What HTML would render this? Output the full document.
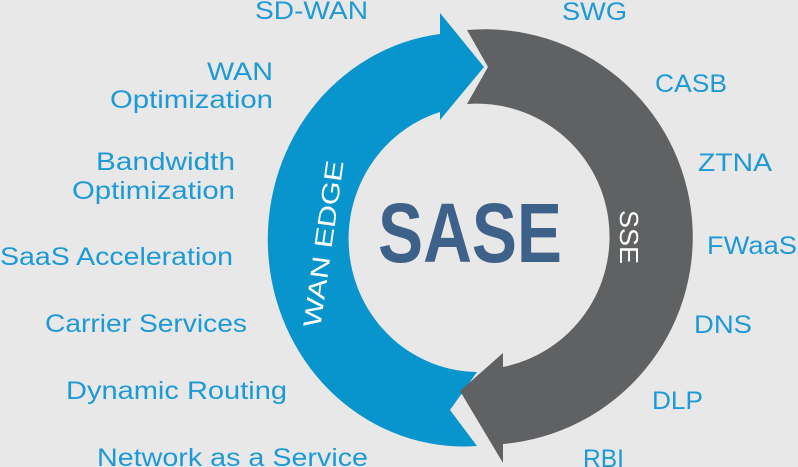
<!DOCTYPE html>
<html><head><meta charset="utf-8"><style>
html,body{margin:0;padding:0;background:#e8e8e8;}
svg{display:block;}
text{font-family:"Liberation Sans",sans-serif;}
</style></head><body>
<svg width="798" height="467" viewBox="0 0 798 467" xmlns="http://www.w3.org/2000/svg">
<rect width="798" height="467" fill="#e8e8e8"/>
<!-- blue arc -->
<path d="M477,446 A196,207 0 0 1 440,34 L440,13 L484,67 L440,120 L440,112 A130,133 0 0 0 477,372 L450,410 Z" fill="#0894cc"/>
<!-- gray arc -->
<path d="M467,30 A207,207 0 0 1 503,444 L503,463 L460,391 L503,353 L503,367 A133,133 0 0 0 467,104 L488,67 Z" fill="#606163"/>
<text x="470" y="262" font-size="84" font-weight="bold" fill="#3d6189" text-anchor="middle" textLength="184" lengthAdjust="spacingAndGlyphs">SASE</text>
<text transform="translate(332,245) rotate(-82)" font-size="25" fill="#ffffff" text-anchor="middle" textLength="168" lengthAdjust="spacingAndGlyphs">WAN EDGE</text>
<text transform="translate(620,237) rotate(90)" font-size="26" fill="#ffffff" text-anchor="middle" textLength="54" lengthAdjust="spacingAndGlyphs">SSE</text>
<g font-size="25" fill="#1d9ad6" text-anchor="end">
<text x="368" y="19" textLength="113" lengthAdjust="spacingAndGlyphs">SD-WAN</text>
<text x="273" y="80" textLength="66" lengthAdjust="spacingAndGlyphs">WAN</text>
<text x="273" y="108" textLength="163" lengthAdjust="spacingAndGlyphs">Optimization</text>
<text x="235" y="170" textLength="139" lengthAdjust="spacingAndGlyphs">Bandwidth</text>
<text x="235" y="199" textLength="163" lengthAdjust="spacingAndGlyphs">Optimization</text>
<text x="233" y="265" textLength="233" lengthAdjust="spacingAndGlyphs">SaaS Acceleration</text>
<text x="247" y="332" textLength="202" lengthAdjust="spacingAndGlyphs">Carrier Services</text>
<text x="287" y="399" textLength="221" lengthAdjust="spacingAndGlyphs">Dynamic Routing</text>
<text x="368" y="466" textLength="271" lengthAdjust="spacingAndGlyphs">Network as a Service</text>
</g>
<g font-size="25" fill="#1d9ad6" text-anchor="start">
<text x="562" y="20" textLength="65" lengthAdjust="spacingAndGlyphs">SWG</text>
<text x="655" y="92" textLength="72" lengthAdjust="spacingAndGlyphs">CASB</text>
<text x="698" y="171" textLength="74" lengthAdjust="spacingAndGlyphs">ZTNA</text>
<text x="707" y="254" textLength="90" lengthAdjust="spacingAndGlyphs">FWaaS</text>
<text x="694" y="333" textLength="58" lengthAdjust="spacingAndGlyphs">DNS</text>
<text x="652" y="409" textLength="51" lengthAdjust="spacingAndGlyphs">DLP</text>
<text x="583" y="467" textLength="41" lengthAdjust="spacingAndGlyphs">RBI</text>
</g>
</svg>
</body></html>
